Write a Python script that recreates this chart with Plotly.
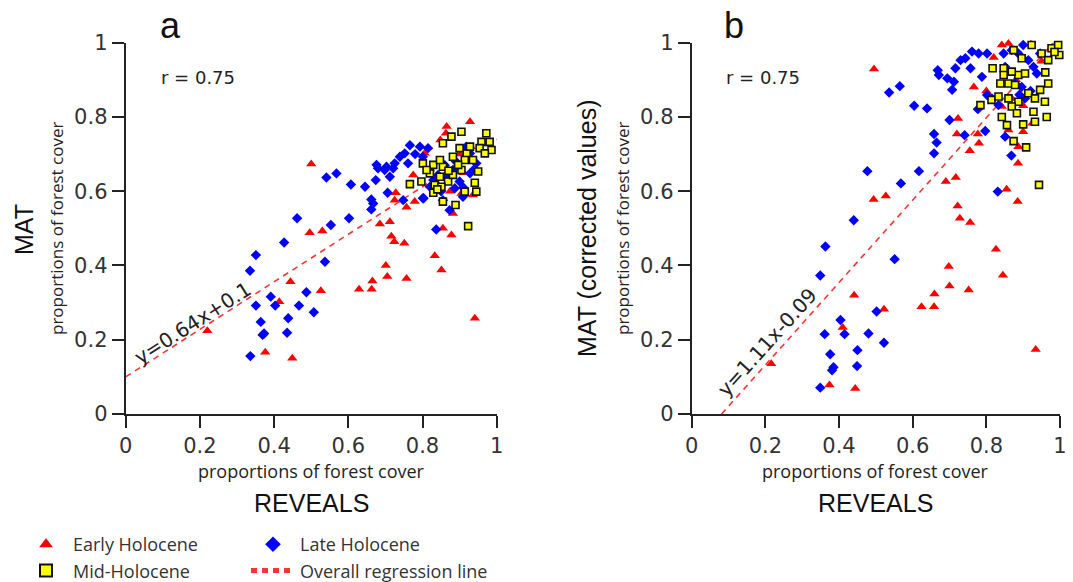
import plotly.graph_objects as go

W, H = 1073, 582

# ---------------- data ----------------
# Panel a : MAT vs REVEALS
xa_early = [0.22, 0.376, 0.449, 0.414, 0.444, 0.496, 0.50, 0.53, 0.526, 0.629, 0.663, 0.665, 0.701, 0.705,
            0.757, 0.685, 0.712, 0.716, 0.724, 0.751, 0.728, 0.725, 0.757, 0.779, 0.775, 0.833, 0.851, 0.855,
            0.878, 0.882, 0.941, 0.928, 0.865, 0.848, 0.863, 0.806, 0.905, 0.936, 0.874, 0.82, 0.90, 0.93,
            0.96, 0.88, 0.84, 0.91]
ya_early = [0.224, 0.166, 0.150, 0.302, 0.356, 0.488, 0.673, 0.493, 0.332, 0.336, 0.336, 0.358, 0.40, 0.37,
            0.365, 0.512, 0.518, 0.479, 0.464, 0.46, 0.596, 0.576, 0.557, 0.572, 0.644, 0.426, 0.388, 0.50,
            0.482, 0.54, 0.258, 0.787, 0.774, 0.738, 0.756, 0.702, 0.594, 0.59, 0.60, 0.66, 0.70, 0.72,
            0.73, 0.64, 0.62, 0.65]

xa_late = [0.336, 0.369, 0.373, 0.364, 0.351, 0.391, 0.403, 0.435, 0.438, 0.467, 0.487, 0.507, 0.537, 0.335,
           0.351, 0.427, 0.462, 0.553, 0.602, 0.541, 0.568, 0.607, 0.645, 0.662, 0.667, 0.662, 0.674, 0.676,
           0.68, 0.706, 0.712, 0.698, 0.721, 0.739, 0.748, 0.803, 0.837, 0.766, 0.793, 0.815, 0.752, 0.703,
           0.725, 0.761, 0.801, 0.873, 0.801, 0.855, 0.928, 0.945, 0.918, 0.865, 0.882, 0.90, 0.829, 0.842,
           0.928, 0.887, 0.909, 0.82, 0.78, 0.86, 0.89, 0.94, 0.85, 0.91]
ya_late = [0.156, 0.213, 0.217, 0.248, 0.292, 0.316, 0.292, 0.219, 0.258, 0.292, 0.328, 0.274, 0.41, 0.386,
           0.428, 0.462, 0.527, 0.509, 0.527, 0.637, 0.648, 0.618, 0.612, 0.578, 0.567, 0.551, 0.63, 0.671,
           0.662, 0.596, 0.639, 0.657, 0.662, 0.693, 0.576, 0.581, 0.497, 0.724, 0.72, 0.716, 0.702, 0.666,
           0.675, 0.675, 0.693, 0.549, 0.581, 0.576, 0.702, 0.675, 0.72, 0.639, 0.657, 0.626, 0.63, 0.644,
           0.648, 0.608, 0.585, 0.612, 0.70, 0.67, 0.68, 0.66, 0.60, 0.61]

xa_mid = [0.923, 0.889, 0.855, 0.829, 0.766, 0.797, 0.801, 0.829, 0.855, 0.82, 0.847, 0.869, 0.833, 0.851,
          0.882, 0.905, 0.914, 0.941, 0.945, 0.95, 0.919, 0.905, 0.878, 0.855, 0.90, 0.928, 0.959, 0.972,
          0.981, 0.986, 0.954, 0.936, 0.968, 0.914, 0.882, 0.847, 0.811, 0.896, 0.87, 0.84]
ya_mid = [0.506, 0.563, 0.572, 0.596, 0.619, 0.626, 0.675, 0.671, 0.666, 0.648, 0.639, 0.626, 0.617, 0.612,
          0.644, 0.657, 0.599, 0.623, 0.599, 0.653, 0.702, 0.76, 0.747, 0.729, 0.716, 0.72, 0.733, 0.756,
          0.733, 0.711, 0.716, 0.684, 0.702, 0.684, 0.693, 0.684, 0.657, 0.671, 0.655, 0.605]

# Panel b : MAT (corrected values) vs REVEALS
xb_early = [0.216, 0.374, 0.444, 0.41, 0.441, 0.522, 0.624, 0.658, 0.659, 0.70, 0.752, 0.934, 0.495, 0.494,
            0.527, 0.69, 0.717, 0.722, 0.728, 0.756, 0.698, 0.826, 0.845, 0.855, 0.885, 0.886, 0.723, 0.72,
            0.755, 0.78, 0.777, 0.766, 0.86, 0.90, 0.925, 0.887, 0.842, 0.86, 0.921, 0.869, 0.842, 0.80,
            0.88, 0.95, 0.82, 0.90]
yb_early = [0.135, 0.078, 0.069, 0.233, 0.32, 0.282, 0.289, 0.289, 0.323, 0.345, 0.334, 0.174, 0.929, 0.578,
            0.587, 0.626, 0.637, 0.56, 0.527, 0.516, 0.397, 0.444, 0.374, 0.605, 0.572, 0.675, 0.796, 0.754,
            0.709, 0.729, 0.754, 0.881, 0.765, 0.76, 0.783, 0.72, 0.994, 0.998, 0.996, 0.85, 0.828, 0.87,
            0.90, 0.95, 0.96, 0.83]

xb_late = [0.349, 0.381, 0.385, 0.376, 0.361, 0.404, 0.415, 0.449, 0.45, 0.48, 0.522, 0.502, 0.551, 0.349,
           0.363, 0.44, 0.477, 0.568, 0.617, 0.536, 0.565, 0.604, 0.639, 0.668, 0.671, 0.694, 0.712, 0.707,
           0.73, 0.743, 0.761, 0.779, 0.802, 0.757, 0.716, 0.788, 0.802, 0.815, 0.777, 0.70, 0.741, 0.797,
           0.851, 0.868, 0.831, 0.658, 0.665, 0.658, 0.833, 0.878, 0.896, 0.905, 0.914, 0.928, 0.937, 0.869,
           0.887, 0.90, 0.946, 0.847, 0.851, 0.89, 0.92]
yb_late = [0.071, 0.118, 0.126, 0.161, 0.215, 0.253, 0.215, 0.129, 0.172, 0.217, 0.192, 0.276, 0.417, 0.373,
           0.451, 0.522, 0.654, 0.621, 0.654, 0.866, 0.883, 0.83, 0.823, 0.926, 0.913, 0.904, 0.895, 0.873,
           0.953, 0.958, 0.976, 0.971, 0.971, 0.931, 0.931, 0.908, 0.859, 0.85, 0.821, 0.792, 0.751, 0.762,
           0.747, 0.696, 0.599, 0.754, 0.731, 0.702, 0.832, 0.89, 0.881, 0.85, 0.953, 0.935, 0.917, 0.98,
           0.971, 0.994, 0.971, 0.971, 0.935, 0.86, 0.87]

xb_mid = [0.784, 0.814, 0.833, 0.817, 0.847, 0.838, 0.86, 0.878, 0.887, 0.905, 0.847, 0.869, 0.896, 0.923,
          0.95, 0.977, 0.995, 0.998, 0.968, 0.874, 0.914, 0.932, 0.946, 0.968, 0.959, 0.964, 0.86, 0.887,
          0.869, 0.883, 0.842, 0.856, 0.928, 0.932, 0.874, 0.908, 0.943, 0.985, 0.96, 0.90]
yb_mid = [0.832, 0.846, 0.855, 0.931, 0.931, 0.89, 0.89, 0.886, 0.913, 0.917, 0.913, 0.922, 0.958, 0.994,
          0.971, 0.985, 0.994, 0.967, 0.953, 0.98, 0.864, 0.85, 0.873, 0.89, 0.841, 0.80, 0.85, 0.841,
          0.828, 0.81, 0.80, 0.778, 0.814, 0.787, 0.735, 0.718, 0.617, 0.975, 0.92, 0.78]

# overall regression lines (slope, intercept) for panels a and b
reg_slope = [0.64, 1.11]
reg_intercept = [0.10, -0.09]
reg_labels = ["y=0.64x+0.1", "y=1.11x-0.09"]
r_values = ["r = 0.75", "r = 0.75"]

tick_vals = [0, 0.2, 0.4, 0.6, 0.8, 1]
tick_text = ["0", "0.2", "0.4", "0.6", "0.8", "1"]

# ---------------- figure ----------------
RED, BLUE, YEL = "#ff0000", "#0000ff", "#ffff00"
TXT = "#222222"

fig = go.Figure()

panels = [
    ("x", "y", xa_early, ya_early, xa_late, ya_late, xa_mid, ya_mid, True),
    ("x2", "y2", xb_early, yb_early, xb_late, yb_late, xb_mid, yb_mid, False),
]

for i, (xr, yr, xe, ye, xl, yl, xm, ym, show) in enumerate(panels):
    fig.add_trace(go.Scatter(
        x=xe, y=ye, mode="markers", name="Early Holocene", xaxis=xr, yaxis=yr,
        marker=dict(symbol="triangle-up", size=9, color=RED, line=dict(width=0)),
        cliponaxis=False, showlegend=show, legend="legend", legendgroup="early", legendrank=1))
    m, b = reg_slope[i], reg_intercept[i]
    x0 = max(0.0, -b / m)
    x1 = 1.0
    fig.add_trace(go.Scatter(
        x=[x0, x1], y=[m * x0 + b, m * x1 + b], mode="lines", name="Overall regression line",
        xaxis=xr, yaxis=yr, line=dict(color="#ff3333", width=1.6, dash="6px,5px"),
        showlegend=show, legend="legend2", legendgroup="reg", legendrank=4))
    fig.add_trace(go.Scatter(
        x=xl, y=yl, mode="markers", name="Late Holocene", xaxis=xr, yaxis=yr,
        marker=dict(symbol="diamond", size=8, color=BLUE, line=dict(width=0)),
        cliponaxis=False, showlegend=show, legend="legend2", legendgroup="late", legendrank=3))
    fig.add_trace(go.Scatter(
        x=xm, y=ym, mode="markers", name="Mid-Holocene", xaxis=xr, yaxis=yr,
        marker=dict(symbol="square", size=7, color=YEL, line=dict(width=1.6, color="#111111")),
        cliponaxis=False, showlegend=show, legend="legend", legendgroup="mid", legendrank=2))

OFF = 8  # page body margin of the html page


def px_x(p):
    return (p - OFF) / W


def px_y(p):
    return (H - (p - OFF)) / H


ydom = [px_y(414), px_y(42.7)]
axis_style = dict(
    range=[0, 1], tickvals=tick_vals, ticktext=tick_text, showgrid=False, zeroline=False,
    showline=True, linecolor=TXT, linewidth=2, ticks="outside", ticklen=12, tickwidth=2,
    tickcolor=TXT, tickfont=dict(family="DejaVu Sans", size=21, color="#333333"), fixedrange=True,
    automargin=False,
)

legend_font = dict(family="Open Sans", size=18, color="#333333")
fig.update_layout(
    width=W, height=H, margin=dict(l=0, r=0, t=0, b=0, autoexpand=False),
    paper_bgcolor="white", plot_bgcolor="white",
    xaxis=dict(domain=[px_x(125.7), px_x(496.7)], anchor="y", **axis_style),
    yaxis=dict(domain=ydom, anchor="x", **axis_style),
    xaxis2=dict(domain=[px_x(691.7), px_x(1060)], anchor="y2", **axis_style),
    yaxis2=dict(domain=ydom, anchor="x2", **axis_style),
    legend=dict(x=px_x(19), y=px_y(526), xanchor="left", yanchor="top", orientation="v",
                font=legend_font, bgcolor="rgba(0,0,0,0)", itemwidth=44,
                itemsizing="constant", tracegroupgap=0, traceorder="grouped"),
    legend2=dict(x=px_x(246), y=px_y(526), xanchor="left", yanchor="top", orientation="v",
                 font=legend_font, bgcolor="rgba(0,0,0,0)", itemwidth=44,
                 itemsizing="constant", tracegroupgap=0, traceorder="grouped"),
)

ann = []


def add_text(text, xp, yp, font, angle=0, xanchor="center"):
    ann.append(dict(text=text, x=px_x(xp), y=px_y(yp), xref="paper", yref="paper", showarrow=False,
                    xanchor=xanchor, yanchor="middle", textangle=angle, font=font))


big = dict(family="Liberation Sans", size=25, color="#111111")
small = dict(family="Open Sans", size=18, color=TXT)
# panel letters
add_text("a", 170, 25, dict(family="Liberation Sans", size=36, color="#111111"))
add_text("b", 734, 25, dict(family="Liberation Sans", size=36, color="#111111"))
# r values
for xp, lab in zip([159, 724], r_values):
    add_text(lab, xp, 77, dict(family="DejaVu Sans", size=18, color=TXT), xanchor="left")
# x-axis titles
for xc in [311, 875]:
    add_text("proportions of forest cover", xc, 471, small)
    add_text("REVEALS", xc, 503, big)
# y-axis titles
add_text("MAT", 24, 230, big, angle=-90)
add_text("MAT (corrected values)", 587, 229, big, angle=-90)
for xc in [56, 622]:
    add_text("proportions of forest cover", xc, 229, dict(family="Open Sans", size=17, color=TXT), angle=-90)

# regression equations along the lines
ann.append(dict(text=reg_labels[0], x=0.181, y=0.245, xref="x", yref="y", showarrow=False, textangle=-32.6,
                xanchor="center", yanchor="middle", font=dict(family="DejaVu Sans", size=20, color=TXT)))
ann.append(dict(text=reg_labels[1], x=0.206, y=0.193, xref="x2", yref="y2", showarrow=False, textangle=-48,
                xanchor="center", yanchor="middle", font=dict(family="DejaVu Sans", size=20, color=TXT)))

fig.update_layout(annotations=ann)

fig.write_html("out.html")
